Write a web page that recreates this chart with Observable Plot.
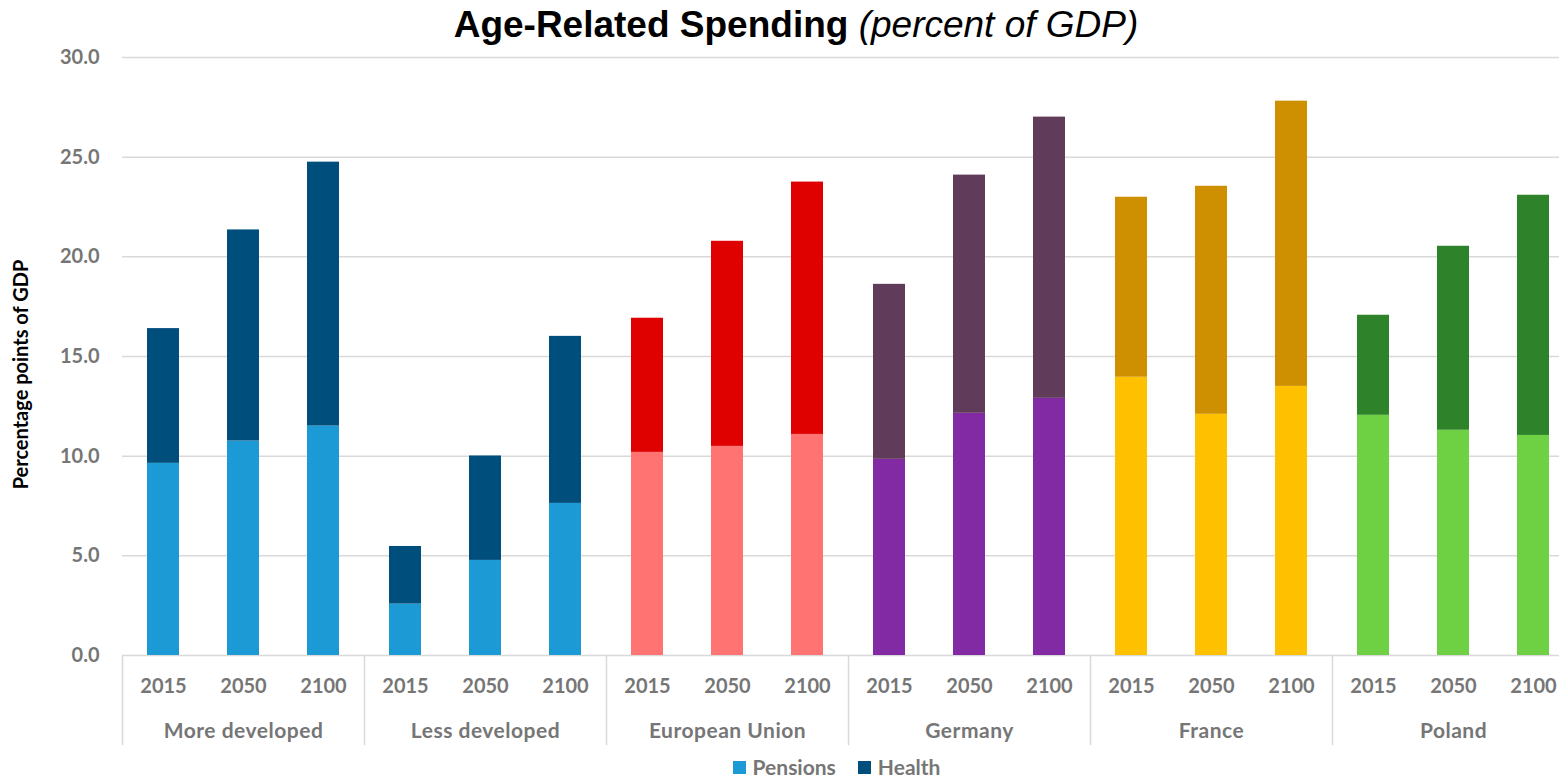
<!DOCTYPE html>
<html>
<head>
<meta charset="utf-8">
<script src="https://cdn.jsdelivr.net/npm/d3@7"></script>
<script src="https://cdn.jsdelivr.net/npm/@observablehq/plot@0.6"></script>
<style>
  html, body { margin: 0; padding: 0; background: #fff; overflow: hidden; }
  #title { height: 44px; padding-top: 2px; padding-left: 33px; text-align: center;
    font-family: "Liberation Sans", Arial, sans-serif; font-size: 37px; line-height: 46px;
    white-space: nowrap; color: #000; }
  #title b { font-weight: bold; }
  #title i { font-style: italic; font-weight: normal; }
  #legend { height: 32px; display: flex; justify-content: center; align-items: flex-start;
    padding-left: 114px; font-family: Lato, sans-serif; font-weight: bold; font-size: 21px; color: #767676; }
  .item { display: flex; align-items: center; height: 20px; line-height: 20px; margin-top: 12px; margin-right: 22px; }
  .item:last-child { margin-right: 0; }
  .sw { width: 13px; height: 13px; margin-right: 7px; display: inline-block; }
  g[aria-label="fx-axis tick label"] text { letter-spacing: 0.5px; }
  g[aria-label="y-title"] text { letter-spacing: 0.9px; }
</style>
</head>
<body>
<div id="title"><b>Age-Related Spending</b> <i>(percent of GDP)</i></div>
<div id="chart"></div>
<div id="legend"></div>
<script>
const groups = ["More developed", "Less developed", "European Union", "Germany", "France", "Poland"];
const years = ["2015", "2050", "2100"];
const seriesNames = ["Pensions", "Health"];
// pensions per group, per year (percent of GDP)
const pensions = [
  [9.64, 10.76, 11.51],
  [2.58, 4.77, 7.63],
  [10.19, 10.49, 11.09],
  [9.84, 12.15, 12.90],
  [13.96, 12.10, 13.50],
  [12.05, 11.30, 11.04]
];
// health per group, per year (percent of GDP)
const health = [
  [6.76, 10.59, 13.24],
  [2.89, 5.24, 8.38],
  [6.73, 10.29, 12.66],
  [8.78, 11.95, 14.11],
  [9.03, 11.44, 14.31],
  [5.02, 9.23, 12.05]
];
const pensionColors = ["#1B9AD6", "#1B9AD6", "#FF7373", "#822AA4", "#FFC000", "#6DD143"];
const healthColors = ["#004E7C", "#004E7C", "#DF0000", "#613C5A", "#CE9000", "#2E8229"];
const legendColors = ["#1B9AD6", "#004E7C"];
const yTicks = [0, 5, 10, 15, 20, 25, 30];
const yTitle = "Percentage points of GDP";

const rows = [];
groups.forEach((g, i) => years.forEach((yr, j) => {
  rows.push({group: g, year: yr, series: seriesNames[0], value: pensions[i][j], color: pensionColors[i]});
}));
groups.forEach((g, i) => years.forEach((yr, j) => {
  rows.push({group: g, year: yr, series: seriesNames[1], value: health[i][j], color: healthColors[i]});
}));

const chart = Plot.plot({
  width: 1559,
  height: 699,
  marginTop: 11,
  marginBottom: 90,
  marginLeft: 121,
  marginRight: -16,
  style: {fontFamily: "Lato, sans-serif", fontWeight: "bold", fontSize: "20px", color: "#767676", background: "transparent", overflow: "visible"},
  fx: {domain: groups, padding: 0, label: null},
  x: {domain: years, paddingInner: 0.6, paddingOuter: 0.3, label: null},
  y: {domain: [0, 30], label: null},
  color: {type: "identity"},
  marks: [
    Plot.gridY(yTicks, {stroke: "#d9d9d9", strokeOpacity: 1, strokeWidth: 1.5}),
    Plot.frame({anchor: "left", stroke: "#d9d9d9", strokeOpacity: 1, strokeWidth: 1.5, insetTop: 598, insetBottom: -89}),
    Plot.barY(rows, {fx: "group", x: "year", y: "value", z: "series", fill: "color"}),
    Plot.axisY(yTicks, {tickSize: 0, tickPadding: 23, tickFormat: d => d.toFixed(1), label: null}),
    Plot.axisX({tickSize: 0, tickPadding: 23, label: null}),
    Plot.axisFx({anchor: "bottom", tickSize: 0, tickPadding: 68, label: null, fontSize: 21}),
    Plot.text([yTitle], {facetAnchor: "left", frameAnchor: "left", rotate: -90, dx: -101, dy: 18,
      fill: "#000", fontSize: 20, textAnchor: "middle", lineAnchor: "middle", ariaLabel: "y-title"})
  ]
});
document.getElementById("chart").appendChild(chart);

const legend = d3.select("#legend");
seriesNames.forEach((n, i) => {
  const item = legend.append("div").attr("class", "item");
  item.append("span").attr("class", "sw").style("background", legendColors[i]);
  item.append("span").text(n);
});
</script>
</body>
</html>
